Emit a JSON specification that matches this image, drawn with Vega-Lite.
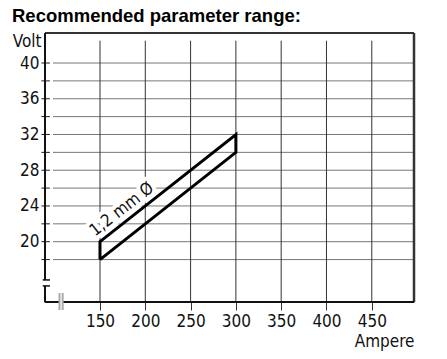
{
  "$schema": "https://vega.github.io/schema/vega-lite/v6.json",
  "width": 369,
  "height": 269,
  "autosize": {"type": "none"},
  "padding": {"left": 45, "top": 33, "right": 33, "bottom": 57},
  "background": "white",
  "config": {"view": {"stroke": null}, "font": "DejaVu Sans Condensed, Roboto, sans-serif"},
  "title": {
    "text": "Recommended parameter range:",
    "font": "Liberation Sans, Arial, sans-serif",
    "fontWeight": "bold",
    "fontSize": 18.5,
    "color": "black",
    "anchor": "start",
    "frame": "group",
    "dx": -33,
    "dy": 19,
    "baseline": "alphabetic",
    "offset": 10
  },
  "layer": [
    {
      "data": {"values": [{"v": 18}, {"v": 20}, {"v": 22}, {"v": 24}, {"v": 26}, {"v": 28}, {"v": 30}, {"v": 32}, {"v": 34}, {"v": 36}, {"v": 38}, {"v": 40}]},
      "mark": {"type": "rule", "color": "#777", "strokeWidth": 1},
      "encoding": {
        "y": {
          "field": "v", "type": "quantitative",
          "scale": {"domain": [13.25, 43.36], "nice": false, "zero": false},
          "axis": {
            "values": [20, 24, 28, 32, 36, 40],
            "labelOverlap": false,
            "domain": false, "grid": false, "ticks": false,
            "labelFontSize": 17, "labelFont": "DejaVu Sans Condensed, Roboto, sans-serif", "labelColor": "#111", "labelPadding": 6,
            "title": "Volt", "titleAngle": 0, "titleAlign": "right", "titleBaseline": "alphabetic",
            "titleX": -4, "titleY": 13, "titleFontSize": 17, "titleFontWeight": "normal",
            "titleFont": "DejaVu Sans Condensed, Roboto, sans-serif", "titleColor": "#111"
          }
        },
        "x": {"datum": 98.1, "type": "quantitative"},
        "x2": {"datum": 496.6}
      }
    },
    {
      "data": {"values": [{"v": 18}, {"v": 20}, {"v": 22}, {"v": 24}, {"v": 26}, {"v": 28}, {"v": 30}, {"v": 32}, {"v": 34}, {"v": 36}, {"v": 38}, {"v": 40}]},
      "mark": {"type": "rule", "color": "#222", "strokeWidth": 1},
      "encoding": {
        "y": {"field": "v", "type": "quantitative"},
        "x": {"datum": 85.3, "type": "quantitative"},
        "x2": {"datum": 94.8}
      }
    },
    {
      "data": {"values": [{"a": 150}, {"a": 200}, {"a": 250}, {"a": 300}, {"a": 350}, {"a": 400}, {"a": 450}]},
      "mark": {"type": "rule", "color": "#333", "strokeWidth": 1},
      "encoding": {
        "x": {
          "field": "a", "type": "quantitative",
          "scale": {"domain": [89.3, 496.6], "nice": false, "zero": false},
          "axis": {
            "values": [150, 200, 250, 300, 350, 400, 450],
            "labelOverlap": false,
            "domain": false, "grid": false,
            "tickSize": 8, "tickColor": "#333", "tickWidth": 1,
            "labelFontSize": 17, "labelFont": "DejaVu Sans Condensed, Roboto, sans-serif", "labelColor": "#111", "labelPadding": 3,
            "title": "Ampere", "titleAlign": "right", "titleBaseline": "alphabetic",
            "titleX": 369, "titleY": 44, "titleFontSize": 17, "titleFontWeight": "normal",
            "titleFont": "DejaVu Sans Condensed, Roboto, sans-serif", "titleColor": "#111"
          }
        },
        "y": {"datum": 42.5, "type": "quantitative"},
        "y2": {"datum": 13.25}
      }
    },
    {
      "data": {"values": [{"part": "top"}]},
      "mark": {"type": "rule", "color": "#333", "strokeWidth": 2},
      "encoding": {"y": {"datum": 43.36, "type": "quantitative"}, "x": {"datum": 89.3, "type": "quantitative"}, "x2": {"datum": 496.6}}
    },
    {
      "data": {"values": [{"part": "right"}]},
      "mark": {"type": "rule", "color": "#333", "strokeWidth": 2.5},
      "encoding": {"x": {"datum": 496.6, "type": "quantitative"}, "y": {"datum": 13.25, "type": "quantitative"}, "y2": {"datum": 43.36}}
    },
    {
      "data": {"values": [{"part": "left upper"}]},
      "mark": {"type": "rule", "color": "#111", "strokeWidth": 2},
      "encoding": {"x": {"datum": 89.3, "type": "quantitative"}, "y": {"datum": 15.72, "type": "quantitative"}, "y2": {"datum": 43.36}}
    },
    {
      "data": {"values": [{"part": "left lower"}]},
      "mark": {"type": "rule", "color": "#111", "strokeWidth": 2},
      "encoding": {"x": {"datum": 89.3, "type": "quantitative"}, "y": {"datum": 13.25, "type": "quantitative"}, "y2": {"datum": 15.05}}
    },
    {
      "data": {"values": [{"part": "break tick upper"}]},
      "mark": {"type": "rule", "color": "#111", "strokeWidth": 1.5},
      "encoding": {"y": {"datum": 15.72, "type": "quantitative"}, "x": {"datum": 86.8, "type": "quantitative"}, "x2": {"datum": 94.8}}
    },
    {
      "data": {"values": [{"part": "break tick lower"}]},
      "mark": {"type": "rule", "color": "#111", "strokeWidth": 1.5},
      "encoding": {"y": {"datum": 15.05, "type": "quantitative"}, "x": {"datum": 86.8, "type": "quantitative"}, "x2": {"datum": 94.8}}
    },
    {
      "data": {"values": [{"part": "bottom left"}]},
      "mark": {"type": "rule", "color": "#111", "strokeWidth": 2},
      "encoding": {"y": {"datum": 13.25, "type": "quantitative"}, "x": {"datum": 88.9, "type": "quantitative"}, "x2": {"datum": 105.1}}
    },
    {
      "data": {"values": [{"part": "bottom right"}]},
      "mark": {"type": "rule", "color": "#111", "strokeWidth": 2},
      "encoding": {"y": {"datum": 13.25, "type": "quantitative"}, "x": {"datum": 108.8, "type": "quantitative"}, "x2": {"datum": 496.9}}
    },
    {
      "data": {"values": [{"part": "break bar 1"}]},
      "mark": {"type": "rule", "color": "#aaa", "strokeWidth": 2},
      "encoding": {"x": {"datum": 105.3, "type": "quantitative"}, "y": {"datum": 12.35, "type": "quantitative"}, "y2": {"datum": 14.26}}
    },
    {
      "data": {"values": [{"part": "break bar 2"}]},
      "mark": {"type": "rule", "color": "#aaa", "strokeWidth": 2},
      "encoding": {"x": {"datum": 108.8, "type": "quantitative"}, "y": {"datum": 12.35, "type": "quantitative"}, "y2": {"datum": 14.26}}
    },
    {
      "data": {"values": [{"t": "1,2 mm Ø", "a": 174, "v": 23.6}]},
      "mark": {"type": "text", "angle": -38, "fontSize": 17, "font": "DejaVu Sans Condensed, Roboto, sans-serif", "align": "center", "baseline": "middle", "stroke": "white", "strokeWidth": 8, "fill": "white"},
      "encoding": {"x": {"field": "a", "type": "quantitative"}, "y": {"field": "v", "type": "quantitative"}, "text": {"field": "t"}}
    },
    {
      "data": {"values": [{"a": 150, "v": 18, "o": 1}, {"a": 150, "v": 20, "o": 2}, {"a": 300, "v": 32, "o": 3}, {"a": 300, "v": 30, "o": 4}, {"a": 150, "v": 18, "o": 5}]},
      "mark": {"type": "line", "color": "black", "strokeWidth": 3, "strokeJoin": "miter"},
      "encoding": {"x": {"field": "a", "type": "quantitative"}, "y": {"field": "v", "type": "quantitative"}, "order": {"field": "o"}}
    },
    {
      "data": {"values": [{"t": "1,2 mm Ø", "a": 174, "v": 23.6}]},
      "mark": {"type": "text", "angle": -38, "fontSize": 17, "font": "DejaVu Sans Condensed, Roboto, sans-serif", "align": "center", "baseline": "middle", "color": "#111"},
      "encoding": {"x": {"field": "a", "type": "quantitative"}, "y": {"field": "v", "type": "quantitative"}, "text": {"field": "t"}}
    }
  ]
}
